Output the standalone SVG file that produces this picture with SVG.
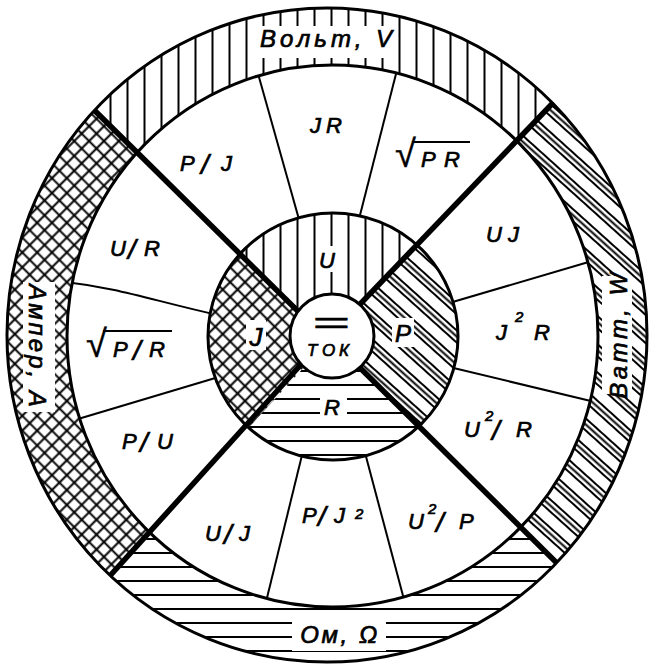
<svg xmlns="http://www.w3.org/2000/svg" width="652" height="665" viewBox="0 0 652 665">
<style>
 .t{font-family:"Liberation Sans","DejaVu Sans",sans-serif;font-style:italic;fill:#000;stroke:#000;stroke-width:0.7;}
 .f{font-size:22px;}
 .sl{font-size:28px;}
 .rt{font-size:38px;font-style:normal;stroke-width:0.4;}
 .ring{font-size:24px;}
 .sup{font-size:15px;}
 .edge{fill:none;stroke:#000;stroke-width:3;}
 .thin{fill:none;stroke:#000;stroke-width:2;}
 .bar{fill:none;stroke:#000;stroke-width:2.2;}
 .thick{stroke:#000;stroke-width:5.5;}
 .bg{fill:#fff;}
 .hl{stroke:#000;stroke-width:2;fill:none;}
</style>
<defs>
 <pattern id="pV" patternUnits="userSpaceOnUse" width="17" height="20"><line class="hl" x1="8.5" y1="0" x2="8.5" y2="20"/></pattern>
 <pattern id="pH" patternUnits="userSpaceOnUse" width="20" height="14"><line class="hl" x1="0" y1="7" x2="20" y2="7"/></pattern>
 <pattern id="pD" patternUnits="userSpaceOnUse" width="30" height="21" patternTransform="rotate(42)"><path class="hl" d="M0,3H30M0,7.5H30M0,12H30"/></pattern>
 <pattern id="pX" patternUnits="userSpaceOnUse" width="10.5" height="10.5" patternTransform="rotate(45)"><path class="hl" d="M0,5.25H10.5M5.25,0V10.5" stroke-width="2.2"/></pattern>
 <clipPath id="cO"><ellipse cx="327" cy="335" rx="320" ry="327"/></clipPath>
 <clipPath id="cM"><ellipse cx="332.5" cy="336" rx="265.5" ry="271"/></clipPath>
 <clipPath id="cI"><ellipse cx="333" cy="336.5" rx="125" ry="123.5"/></clipPath>
</defs>

<g id="outer-ring">
 <ellipse class="bg" cx="327" cy="335" rx="320" ry="327"/>
 <g clip-path="url(#cO)">
  <polygon id="volt-sector" points="330,339 -59,-41 707,-58" fill="url(#pV)"/>
  <polygon id="watt-sector" points="330,339 707,-58 716,721" fill="url(#pD)"/>
  <polygon id="ohm-sector" points="330,339 716,721 -38,740" fill="url(#pH)"/>
  <polygon id="amper-sector" points="330,339 -38,740 -59,-41" fill="url(#pX)"/>
 </g>
 <ellipse class="bg" cx="332.5" cy="336" rx="265.5" ry="271"/>
</g>

<g id="formula-ring-dividers" clip-path="url(#cM)">
 <line class="thin" x1="300" y1="223" x2="257" y2="70"/>
 <line class="thin" x1="358" y1="223" x2="397" y2="70"/>
 <line class="thin" x1="439" y1="306" x2="592" y2="261"/>
 <line class="thin" x1="441" y1="365" x2="595" y2="402"/>
 <line class="thin" x1="304" y1="447" x2="265" y2="606"/>
 <line class="thin" x1="364" y1="449" x2="406" y2="607"/>
 <path class="thin" d="M64,282 C120,288 150,300 222,316"/>
 <line class="thin" x1="68" y1="422" x2="222" y2="376"/>
</g>

<g id="inner-disk">
 <ellipse class="bg" cx="333" cy="336.5" rx="125" ry="123.5"/>
 <g clip-path="url(#cI)">
  <polygon id="U-sector" points="330,339 -59,-41 707,-58" fill="url(#pV)"/>
  <polygon id="P-sector" points="330,339 707,-58 716,721" fill="url(#pD)"/>
  <polygon id="R-sector" points="330,339 716,721 -38,740" fill="url(#pH)"/>
  <polygon id="J-sector" points="330,339 -38,740 -59,-41" fill="url(#pX)"/>
 </g>
</g>

<g id="connectors" clip-path="url(#cO)">
 <line class="thick" x1="82" y1="98" x2="317" y2="330"/>
 <line class="thick" x1="573" y1="82" x2="342" y2="323"/>
 <line class="thick" x1="89" y1="599" x2="315" y2="349"/>
 <line class="thick" x1="578" y1="584" x2="342" y2="350"/>
</g>

<g id="outlines">
 <ellipse class="edge" cx="327" cy="335" rx="320" ry="327"/>
 <ellipse class="edge" cx="332.5" cy="336" rx="265.5" ry="271"/>
 <ellipse class="edge" cx="333" cy="336.5" rx="125" ry="123.5"/>
</g>

<g id="center">
 <circle cx="332" cy="336" r="42" fill="#fff" stroke="#000" stroke-width="3"/>
 <text class="t" x="312" y="333" font-size="30" font-style="normal" stroke-width="0.3" textLength="37" lengthAdjust="spacingAndGlyphs">=</text>
 <text class="t" x="307 322 339" y="356" font-size="17">ТОК</text>
</g>

<g id="ring-labels">
 <g id="volt"><rect class="bg" x="260" y="26" width="138" height="32"/><text class="t ring" x="328" y="47" text-anchor="middle" letter-spacing="4">Вольт, V</text></g>
 <g id="watt"><rect class="bg" x="602" y="276" width="30" height="118"/><text class="t ring" transform="translate(627,334) rotate(-90)" text-anchor="middle" letter-spacing="3.5">Ватт, W</text></g>
 <g id="amper"><rect class="bg" x="23" y="282" width="32" height="130"/><text class="t ring" transform="translate(29,347) rotate(90)" text-anchor="middle" letter-spacing="3">Ампер, A</text></g>
 <g id="ohm"><rect class="bg" x="292" y="621" width="94" height="30"/><text class="t ring" x="340" y="643" text-anchor="middle" letter-spacing="2.6">Ом, Ω</text></g>
</g>

<g id="inner-labels">
 <g id="lbl-U"><rect class="bg" x="316" y="246" width="24" height="26"/><text class="t f" x="327" y="268" text-anchor="middle">U</text></g>
 <g id="lbl-P"><rect class="bg" x="392" y="318" width="22" height="29"/><text class="t" font-size="24" x="403" y="342" text-anchor="middle">P</text></g>
 <g id="lbl-R"><rect class="bg" x="320" y="398" width="27" height="20"/><text class="t f" x="332" y="415" text-anchor="middle">R</text></g>
 <g id="lbl-J"><rect class="bg" x="246" y="320" width="20" height="30"/><text class="t" font-size="26" x="256" y="346" text-anchor="middle">J</text></g>
</g>

<g id="formulas">
 <text id="JR" class="t f" x="310 326" y="133">JR</text>
 <text id="PdJ" class="t f" y="171"><tspan x="180">P</tspan><tspan class="sl" x="201" y="174">/</tspan><tspan x="221" y="171">J</tspan></text>
 <g id="sqrtPR"><text class="t f" y="167"><tspan class="rt" x="395">√</tspan><tspan x="421 444">PR</tspan></text><line class="bar" x1="412" y1="142" x2="470" y2="142"/></g>
 <text id="UJ" class="t f" x="486 508" y="242">UJ</text>
 <text id="J2R" class="t f" y="340"><tspan x="496">J</tspan><tspan class="sup" x="515" y="322">2</tspan><tspan x="534" y="340">R</tspan></text>
 <text id="U2dR" class="t f" y="437"><tspan x="464">U</tspan><tspan class="sup" x="485" y="421">2</tspan><tspan class="sl" x="492" y="440">/</tspan><tspan x="516" y="437">R</tspan></text>
 <text id="U2dP" class="t f" y="529"><tspan x="408">U</tspan><tspan class="sup" x="428" y="514">2</tspan><tspan class="sl" x="436" y="532">/</tspan><tspan x="459" y="529">P</tspan></text>
 <text id="PdJ2" class="t f" y="523"><tspan x="302">P</tspan><tspan class="sl" x="318" y="526">/</tspan><tspan x="334" y="523">J</tspan><tspan class="sup" x="355" y="519">2</tspan></text>
 <text id="UdJ" class="t f" y="541"><tspan x="205">U</tspan><tspan class="sl" x="224" y="544">/</tspan><tspan x="239" y="541">J</tspan></text>
 <text id="PdU" class="t f" y="449"><tspan x="122">P</tspan><tspan class="sl" x="140" y="452">/</tspan><tspan x="157" y="449">U</tspan></text>
 <g id="sqrtPdR"><text class="t f" y="357"><tspan class="rt" x="86">√</tspan><tspan x="113">P</tspan><tspan class="sl" x="133" y="360">/</tspan><tspan x="149" y="357">R</tspan></text><line class="bar" x1="103" y1="331" x2="172" y2="331"/></g>
 <text id="UdR" class="t f" y="256"><tspan x="110">U</tspan><tspan class="sl" x="128" y="259">/</tspan><tspan x="144" y="256">R</tspan></text>
</g>
</svg>
